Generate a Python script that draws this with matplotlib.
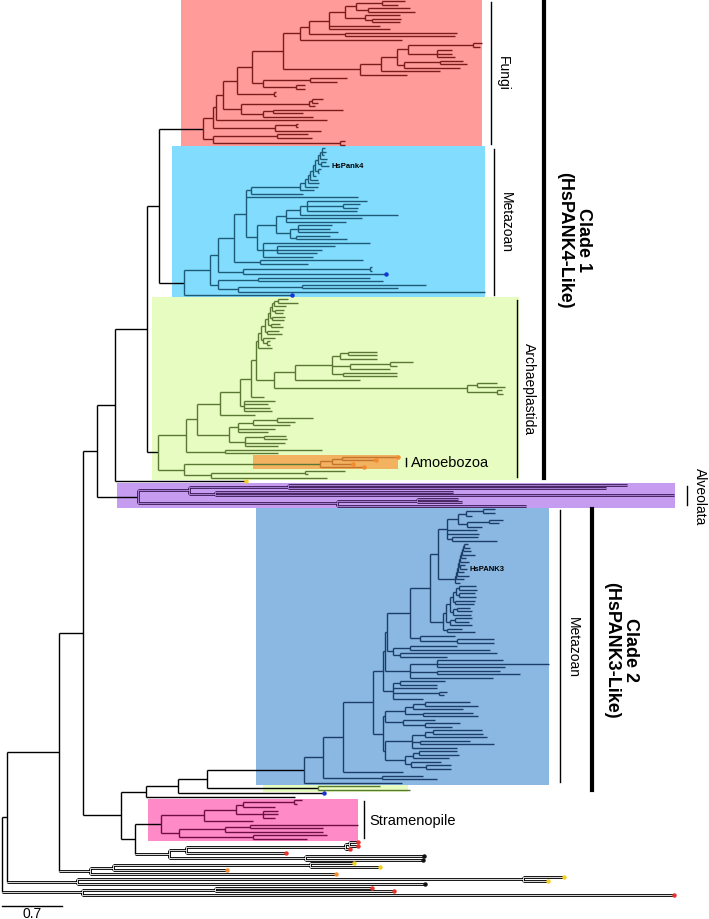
import matplotlib
matplotlib.use("Agg")
import matplotlib.pyplot as plt
from matplotlib.collections import LineCollection
from matplotlib.patches import Rectangle

plt.rcParams['font.family'] = ['Liberation Sans', 'DejaVu Sans']

# Tree data (Newick). Branch lengths in units where the 0.7 scale bar = 60 units.
BRANCH_UNIT = 0.7 / 60
SCALE_VALUE = 0.7

# --- Fungi ---
f_L = "((:23,:16):26,(:42,:47):12)"
f_M = "(:35,(:29,:28):7)"
f_J = f"(({f_L}:11,{f_M}:20):16,:51,:61)"
f_H = f"(({f_J}:20,(:112,:110):36):9,:102)"
f_N = "(((((:9,:7):65,(:15,:15,:18):29):11,((:23,:27):36,:56):7):16,:59):21,:47)"
f_F5 = f"(({f_H}:17,{f_N}:77):31,((:37,:27):47,(:9,:9):33):11)"
f_F3 = f"(({f_F5}:15,(:2,:2):37):14,(((:11,:6):3,:6):68,((:70,:30):10,:50):22):18)"
f_F1 = f"(({f_F3}:7,:111):3,((:2,:2):21,:46):62)"
FUNGI = f"({f_F1}:10,((:31,:35):64,(:5,:5):127):10)fungi"

# --- Metazoan (clade 1) ---
m_n7 = "(((:3,:4,:2):2,:7):2,(:5,HsPank4:8):3)"
m_crown = f"(((((({m_n7}:3,(:3,:1):3):2,:3):3,:8):2,:11):3,:13):5,:14)"
m_P1 = "((((:60,(:17,:15):36,:50):7,:98):14,:76,:60):10,((:34,:32,:40):8,(:34,:51):6):14)"
m_P0 = f"({m_P1}:19,(:107,(:58,:45,:40):14,:50):6)"
m_M5 = f"(({m_crown}:49,:52):5,:112,{m_P0}:11)"
m_M2 = f"(({m_M5}:12,(:103,:48):26):16,((:2,:2):127,b:143):25)"
m_M3 = "((:112,:125):40,((:124,:96):64,:247):20)"
METAZOA1 = f"(({m_M2}:8,{m_M3}:8):26,b:108)metazoa1"

# --- Archaeplastida (with Amoebozoa) ---
a_TC = "((((((((:10,:20):4,:12):2,(:9,:8):3):2,(:13,:12):2):2,(:9,:12):3):3,(:12,:15):2):4,(:12,(:3,:3):4):2):3,:14)"
a_D1 = "(((:29,:29):8,:37):8,((:23,:7):40,:40):18,(:54,:54):11)"
a_K = f"(({a_D1}:37,:65):21,((:20,:28):10,(:5,:6):30):193)"
a_E = f"((({a_TC}:2,{a_K}:18):5,:13):11,(:31,:24,:26,:28):4)"
a_B = "((((:36,:18):24,:37):15,:37,:30):9,((:22,:23):19,:40,:33):16)"
a_A1 = f"((({a_E}:20,:35):23,{a_B}:32):11,(:97,:53):39)"
AMOEB = "(((o:56,o:34):10,o:21):12,o:44)amoeb"
ARCHAE = f"({a_A1}:28,({AMOEB}:136,((:40,:3):94,:116):27):26)archae"

# --- Alveolata ---
ALVEO = "(((:339,:318):99,(:238,:459):26):51,((:41,:45):80,:189):199)alveo"

# --- Metazoan (clade 2) ---
z_topA = "((((:12,:12):17,:6):8,((:14,:10):22,:15):9):11,:30,:32,(:26,:45):5)"
z_topB = "((((((((((:4,:6):1,:8):1,:13):1,:5):1,:9):1,(:5,HsPANK3:7):1):1,:6):1,:12):1,:8):1,:5)"
z_topC = "((((((:17,:18):3,(:16,:17):3):3,(:20,:19):2):3,((:13,:15):4,:18):3):4,((:17,:14):5,:22):4):3,(:15,:28):4)"
z_U5 = f"((({z_topA}:9,{z_topB}:17):8,{z_topC}:13):20,(:35,(:37,:37):37):10)"
z_midA = "((:47,:80):17,(:97,:47):7)"
z_midB = "((:66,:112,:68):27,(:63,:83):27,:83)"
z_midC = "((:45,:37):7,:44,(:8,:5):46,:30)"
z_X2 = f"((({z_U5}:23,{z_midA}:6):2,{z_midB}:25):2,{z_midC}:10)"
z_L2a = "(((:45,:53):12,:50):8,(:50,:55):18)"
z_L2b = "(:32,(:35,:27):22)"
z_L2c = "(((:49,:50):8,:62):13,(:50,:74):8,:45)"
z_L2d = "(((:38,:40):6,:36):8,(:30,(:25,:25):15):6)"
z_L2 = f"(({z_L2a}:20,{z_L2b}:18):2,({z_L2c}:27,{z_L2d}:20):2)"
METAZOA2 = f"(((({z_X2}:10,{z_L2}:10):30,:60):20,(:41,:55):59):19,:98)metazoa2"

# --- Stramenopile ---
STRAM = "(((((:8,:3):51,:32):7,(:15,:15,:12):27):32,:49):43,(((:108,:73):25,:98):46,(:74,:54):74):18)stram"

# --- backbone and outgroups ---
b_N97 = f"(((({FUNGI}:44,{METAZOA1}:25):12,{ARCHAE}:11):32,y:131):18,{ALVEO}:41)"
b_N146 = f"((({METAZOA2}:97,(:62,:92)green:111):29,b:146):32,:149)"
b_N135 = f"({STRAM}:26,((((r:9,r:9):4,r:5):159,r:100):17,(k:119,k:118):136)og:34)"
b_OG2 = "(((y:44,y:70):197,o:114):23,o:246)og"
b_OG1 = "((y:41,y:25):446,k:348)og"
b_BOT = "((r:157,r:179):133,r:592)og"
TREE = f"(((({b_N97}:14,({b_N146}:25,{b_N135}:14):38):24,{b_OG2}:31):52,{b_OG1}:70):5,{b_BOT}:80);"

# name: (box colour, branch colour, box left pad, box right pad)
CLADE_STYLE = {
    'fungi': ('#ff9b98', '#7b1c1c', 22, 0),
    'metazoa1': ('#82dcfd', '#1d5a78', 12, 0),
    'archae': ('#e6fcc0', '#5a7834', 6, 14),
    'amoeb': ('#f2b25f', '#c4742e', 67, 0),
    'alveo': ('#c69cf0', '#3d1a56', 21, 1),
    'metazoa2': ('#8ab8e3', '#1b3d66', 48, 0),
    'stram': ('#ff8ac8', '#6e0e42', 13, 0),
    'green': ('#e6fcc0', '#5a7834', 55, -2),
}
# groups drawn as outlined (double) lines: name -> (inner colour, outline the stem too)
HOLLOW = {'alveo': ('#b88ee6', False), 'og': ('white', True)}
DOT_COLORS = {'r': '#e8322a', 'y': '#f5d020', 'o': '#f28a2e', 'k': '#111111', 'b': '#1533d6'}


def parse_newick(s):
    s = "".join(s.split()).rstrip(';')
    pos = 0

    def node():
        nonlocal pos
        n = {'children': [], 'name': '', 'length': 0.0}
        if s[pos] == '(':
            pos += 1
            while True:
                n['children'].append(node())
                if s[pos] == ',':
                    pos += 1
                else:
                    pos += 1  # ')'
                    break
        start = pos
        while pos < len(s) and s[pos] not in ':,()':
            pos += 1
        n['name'] = s[start:pos]
        if pos < len(s) and s[pos] == ':':
            pos += 1
            start = pos
            while pos < len(s) and s[pos] not in ',()':
                pos += 1
            n['length'] = float(s[start:pos])
        return n

    return node()


root = parse_newick(TREE)
leaves, nodes, clades = [], [], {}


def place(n, parent_x, parent_color, parent_hollow):
    n['x'] = parent_x + n['length']
    n['parent_x'] = parent_x
    n['stem_color'] = parent_color
    n['color'] = CLADE_STYLE[n['name']][1] if n['name'] in CLADE_STYLE else parent_color
    n['hollow'] = HOLLOW[n['name']][0] if n['name'] in HOLLOW else parent_hollow
    n['stem_hollow'] = n['hollow'] if n['name'] in HOLLOW and HOLLOW[n['name']][1] else parent_hollow
    if n['name'] in CLADE_STYLE:
        clades[n['name']] = n
    if n['children']:
        for ch in n['children']:
            place(ch, n['x'], n['color'], n['hollow'])
        n['y'] = (n['children'][0]['y'] + n['children'][-1]['y']) / 2
        n['leaves'] = [l for ch in n['children'] for l in ch['leaves']]
    else:
        n['y'] = len(leaves)
        n['leaves'] = [n]
        leaves.append(n)
    nodes.append(n)


place(root, 0.0, 'black', None)

sp = (896 - 2) / (len(leaves) - 1)   # pixel spacing between leaves


def px(p):
    return p - 2


def py(p):
    return (p - 2) / sp


fig = plt.figure(figsize=(7.09, 9.2), dpi=100)
ax = fig.add_axes([0, 0, 1, 1])
ax.set_xlim(-2, 707)
ax.set_ylim(py(920), py(0))
ax.axis('off')

# clade boxes
for name, (face, _, lpad, rpad) in CLADE_STYLE.items():
    c = clades[name]
    ys = [l['y'] for l in c['leaves']]
    x0 = c['x'] - lpad
    x1 = max(l['x'] for l in c['leaves']) + rpad
    z = 0.5 if name in ('amoeb', 'green') else 0
    ax.add_patch(Rectangle((x0, min(ys) - 0.5), x1 - x0, max(ys) - min(ys) + 1,
                           facecolor=face, edgecolor='none', zorder=z))

# branches
segs, cols, widths = [], [], []
inner_segs, inner_cols = [], []


def add_seg(seg, col, hollow):
    segs.append(seg)
    cols.append(col)
    widths.append(2.0 if hollow else 1.0)
    if hollow:
        inner_segs.append(seg)
        inner_cols.append(hollow)


for n in nodes:
    if n is not root:
        add_seg([(n['parent_x'], n['y']), (n['x'], n['y'])], n['stem_color'], n['stem_hollow'])
    if n['children']:
        add_seg([(n['x'], n['children'][0]['y']), (n['x'], n['children'][-1]['y'])],
                n['color'], n['hollow'])
ax.add_collection(LineCollection(segs, colors=cols, linewidths=widths, zorder=2))
ax.add_collection(LineCollection(inner_segs, colors=inner_cols, linewidths=0.6,
                                 capstyle='butt', zorder=2.1))

# tip dots and labels
for l in leaves:
    if l['name'] in DOT_COLORS:
        ax.plot(l['x'], l['y'], 'o', ms=3.2, color=DOT_COLORS[l['name']], mec='none', zorder=3)
    elif l['name'].startswith('Hs'):
        ax.text(l['x'] + 2, l['y'], l['name'], fontsize=5.5, fontweight='bold',
                va='center', ha='left', zorder=4)


def extent(*names):
    ys = [l['y'] for nm in names for l in clades[nm]['leaves']]
    return min(ys), max(ys)


# group bars with rotated names
for name, bar_x, txt_x, label in [('fungi', 491, 503, 'Fungi'),
                                   ('metazoa1', 494, 506, 'Metazoan'),
                                   ('archae', 517, 529, 'Archaeplastida'),
                                   ('alveo', 687, 700, 'Alveolata'),
                                   ('metazoa2', 560, 573, 'Metazoan')]:
    y0, y1 = extent(name)
    ax.plot([px(bar_x)] * 2, [y0 + 0.2, y1 - 0.2], color='black', lw=1.0)
    ax.text(px(txt_x), (y0 + y1) / 2, label, rotation=270, fontsize=10,
            ha='center', va='center')

y0, y1 = extent('amoeb')
ax.plot([px(406)] * 2, [y0 + 0.3, y1 - 0.3], color='black', lw=1.0)
ax.text(px(411), (y0 + y1) / 2, 'Amoebozoa', fontsize=10.5, ha='left', va='center')

y0, y1 = extent('stram')
ax.plot([px(364)] * 2, [y0 + 0.3, y1 - 0.3], color='black', lw=1.0)
ax.text(px(369), (y0 + y1) / 2, 'Stramenopile', fontsize=10.5, ha='left', va='center')

# big clade bars
y0, _ = extent('fungi')
_, y1 = extent('archae')
ax.plot([px(544)] * 2, [y0, y1], color='black', lw=3)
ax.text(px(574), py(240), 'Clade 1\n(HsPANK4-Like)', rotation=270, fontsize=13,
        fontweight='bold', ha='center', va='center', multialignment='center', linespacing=1.2)

y0, _ = extent('metazoa2')
_, y1 = extent('green')
ax.plot([px(592)] * 2, [y0, y1], color='black', lw=3)
ax.text(px(621), py(650), 'Clade 2\n(HsPANK3-Like)', rotation=270, fontsize=13,
        fontweight='bold', ha='center', va='center', multialignment='center', linespacing=1.2)

# scale bar
bar_len = SCALE_VALUE / BRANCH_UNIT
ax.plot([0, bar_len], [py(907)] * 2, color='black', lw=1.0)
ax.text(bar_len / 2, py(914), f'{SCALE_VALUE}', fontsize=10, ha='center', va='center')

fig.savefig('out.png', dpi=100)
